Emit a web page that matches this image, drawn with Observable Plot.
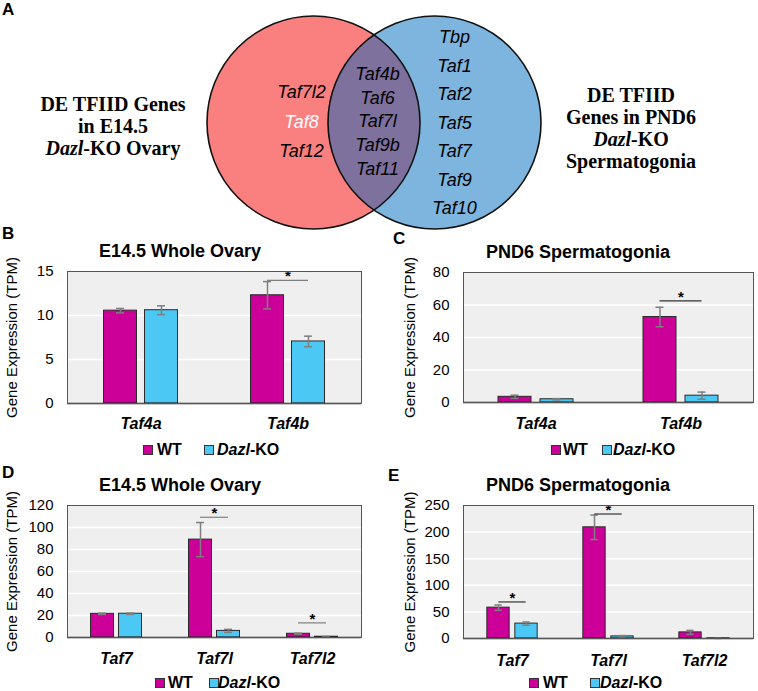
<!DOCTYPE html>
<html><head><meta charset="utf-8">
<script src="https://cdn.jsdelivr.net/npm/d3@7"></script>
<script src="https://cdn.jsdelivr.net/npm/@observablehq/plot@0.6"></script>
<style>
body{margin:0;background:#fff;}
#root{position:relative;width:758px;height:691px;overflow:hidden;font-family:"Liberation Sans",Arial,sans-serif;color:#000;}
#root svg{position:absolute;overflow:visible;}
.letter{position:absolute;font-weight:bold;font-size:17px;line-height:18px;}
.title{position:absolute;font-weight:bold;font-size:18px;line-height:20px;text-align:center;width:300px;white-space:nowrap;}
.vlab{position:absolute;font-family:"Liberation Serif","Times New Roman",serif;font-weight:bold;font-size:20px;line-height:22px;text-align:center;width:220px;}
.sw{position:absolute;width:8px;height:8px;border:1px solid #333;}
.lt{position:absolute;font-weight:bold;font-size:16px;line-height:18px;white-space:nowrap;}
</style></head><body><div id="root"></div>
<script>
// ---------- data ----------
const vennLeftOnly = ["Taf7l2", "Taf8", "Taf12"];
const vennShared = ["Taf4b", "Taf6", "Taf7l", "Taf9b", "Taf11"];
const vennRightOnly = ["Tbp", "Taf1", "Taf2", "Taf5", "Taf7", "Taf9", "Taf10"];
const vennLeftLabel = ["DE TFIID Genes", "in E14.5", "<i>Dazl</i>-KO Ovary"];
const vennRightLabel = ["DE TFIID", "Genes in PND6", "<i>Dazl</i>-KO", "Spermatogonia"];

const genotypes = ["WT", "Dazl-KO"];
const genesBC = ["Taf4a", "Taf4b"];
const genesDE = ["Taf7", "Taf7l", "Taf7l2"];

// B: E14.5 whole ovary
const bWT = [10.55, 12.3], bWTerr = [0.25, 1.55];
const bKO = [10.6, 7.05], bKOerr = [0.5, 0.6];
const bSig = [{gene: "Taf4b", y: 14.0}];
// C: PND6 spermatogonia
const cWT = [3.5, 52.6], cWTerr = [1.0, 6.0];
const cKO = [2.0, 4.2], cKOerr = [0.4, 2.2];
const cSig = [{gene: "Taf4b", y: 62.6}];
// D: E14.5 whole ovary
const dWT = [21.5, 89, 3.4], dWTerr = [0.6, 15.5, 0.5];
const dKO = [21.6, 6.0, 0.7], dKOerr = [0.6, 1.4, 0.2];
const dSig = [{gene: "Taf7l", y: 109.3}, {gene: "Taf7l2", y: 13.3}];
// E: PND6 spermatogonia
const eWT = [58, 209, 11.5], eWTerr = [5, 23, 3.7];
const eKO = [28, 4, 0.4], eKOerr = [3, 1.5, 0.2];
const eSig = [{gene: "Taf7", y: 68.7}, {gene: "Taf7l", y: 234}];

const WT_COLOR = "#CC0099", KO_COLOR = "#4CC8F4";
const root = document.getElementById("root");

function place(el, left, top) { el.style.left = left + "px"; el.style.top = top + "px"; root.appendChild(el); return el; }
function div(cls, html) { const d = document.createElement("div"); d.className = cls; d.innerHTML = html; return d; }

// ---------- Venn (panel A) ----------
const V = {cx1: 313, cx2: 434, cy: 122, r: 106.5};
const lens = d3.range(V.cx2 - V.r, V.cx1 + V.r + 0.001, 0.25).map(x => {
  const h1 = Math.sqrt(Math.max(0, V.r * V.r - (x - V.cx1) ** 2));
  const h2 = Math.sqrt(Math.max(0, V.r * V.r - (x - V.cx2) ** 2));
  const h = Math.min(h1, h2);
  return {x, y1: V.cy - h, y2: V.cy + h};
});
const vennText = {fontSize: 18, fontStyle: "italic", fontFamily: "Liberation Sans, Arial, sans-serif", text: d => d};
const venn = Plot.plot({
  width: 758, height: 240, margin: 0,
  x: {type: "identity", axis: null}, y: {type: "identity", axis: null},
  style: {background: "transparent", overflow: "visible"},
  marks: [
    Plot.dot([V.cx1], {x: d => d, y: () => V.cy, r: V.r, fill: "#FA8080", stroke: "none"}),
    Plot.dot([V.cx2], {x: d => d, y: () => V.cy, r: V.r, fill: "#7DB5DE", stroke: "none"}),
    Plot.areaY(lens, {x: "x", y1: "y1", y2: "y2", fill: "#7F719E"}),
    Plot.dot([V.cx1, V.cx2], {x: d => d, y: () => V.cy, r: V.r, fill: "none", stroke: "#111", strokeWidth: 1.6}),
    Plot.text(vennLeftOnly, {...vennText, x: () => 301, y: (d, i) => 92 + i * 29.3, fill: d => d === "Taf8" ? "white" : "black"}),
    Plot.text(vennShared, {...vennText, x: () => 377, y: (d, i) => 74 + i * 23.6}),
    Plot.text(vennRightOnly, {...vennText, x: () => 454, y: (d, i) => 37 + i * 28.5})
  ]
});
place(venn, 0, 0);
place(div("vlab", vennLeftLabel.join("<br>")), 113 - 110, 126 - 33);
place(div("vlab", vennRightLabel.join("<br>")), 631 - 110, 128 - 44);

// ---------- bar panels ----------
function barPanel(p) {
  const {genes, wt, wtErr, ko, koErr, sig, yMax, yStep, width, height, marginLeft, marginRight, marginTop, marginBottom, barW, gap, labelOffset, xPad, sigColor} = p;
  const wtRows = genes.map((g, i) => ({gene: g, v: wt[i], e: wtErr[i]}));
  const koRows = genes.map((g, i) => ({gene: g, v: ko[i], e: koErr[i]}));
  const step = (width - marginLeft - marginRight) / genes.length;
  const half = step / 2;
  const off = gap / 2 + barW / 2;
  const cap = 4;
  const ticks = d3.range(0, yMax + 1e-9, yStep);
  const errMarks = (rows, dx) => [
    Plot.ruleX(rows, {x: "gene", y1: d => d.v - d.e, y2: d => d.v + d.e, dx, stroke: "#7F7F7F", strokeWidth: 1.5}),
    Plot.tickY(rows, {x: "gene", y: d => d.v + d.e, insetLeft: half + dx - cap, insetRight: half - dx - cap, stroke: "#7F7F7F", strokeWidth: 1.5}),
    Plot.tickY(rows, {x: "gene", y: d => d.v - d.e, insetLeft: half + dx - cap, insetRight: half - dx - cap, stroke: "#7F7F7F", strokeWidth: 1.5})
  ];
  return Plot.plot({
    width, height, marginLeft, marginRight, marginTop, marginBottom,
    style: {background: "transparent", overflow: "visible", fontFamily: "Liberation Sans, Arial, sans-serif", color: "#000"},
    x: {type: "band", domain: genes, padding: 0},
    y: {domain: [0, yMax]},
    marks: [
      Plot.frame({fill: "#EFEFEF", stroke: "none"}),
      Plot.gridY(ticks.filter(t => t > 0 && t < yMax), {stroke: "#fff", strokeOpacity: 1, strokeWidth: 1.5}),
      Plot.barY(wtRows, {x: "gene", y: "v", fill: WT_COLOR, stroke: "#2a2a2a", strokeWidth: 1, insetLeft: half - gap / 2 - barW, insetRight: half + gap / 2}),
      Plot.barY(koRows, {x: "gene", y: "v", fill: KO_COLOR, stroke: "#2a2a2a", strokeWidth: 1, insetLeft: half + gap / 2, insetRight: half - gap / 2 - barW}),
      ...errMarks(wtRows, -off),
      ...errMarks(koRows, off),
      Plot.tickY(sig, {x: "gene", y: "y", insetLeft: half - off, insetRight: half - off, stroke: sigColor, strokeWidth: 1.2}),
      Plot.text(sig, {x: "gene", y: "y", text: () => "*", dy: -4, fontSize: 15, fontWeight: "bold"}),
      Plot.ruleY([0], {stroke: "#222", strokeWidth: 1.5}),
      Plot.frame({stroke: "#555", strokeWidth: 1}),
      Plot.axisY({ticks, tickSize: 0, tickPadding: 14, fontSize: 15, label: "Gene Expression (TPM)", labelAnchor: "center", labelOffset, labelArrow: "none"}),
      Plot.axisX({tickSize: 0, tickPadding: xPad, fontSize: 16, fontWeight: "bold", fontStyle: "italic", label: null})
    ]
  });
}

const panels = [
  {left: 0, top: 262, genes: genesBC, wt: bWT, wtErr: bWTerr, ko: bKO, koErr: bKOerr, sig: bSig, yMax: 15, yStep: 5,
   width: 375, height: 175, marginLeft: 67, marginRight: 14, marginTop: 9, marginBottom: 34, barW: 33, gap: 8, labelOffset: 61, xPad: 14, sigColor: "#7F7F7F"},
  {left: 380, top: 262, genes: genesBC, wt: cWT, wtErr: cWTerr, ko: cKO, koErr: cKOerr, sig: cSig, yMax: 80, yStep: 20,
   width: 378, height: 175, marginLeft: 83, marginRight: 5, marginTop: 10, marginBottom: 35, barW: 33, gap: 9, labelOffset: 59, xPad: 15, sigColor: "#333"},
  {left: 0, top: 496, genes: genesDE, wt: dWT, wtErr: dWTerr, ko: dKO, koErr: dKOerr, sig: dSig, yMax: 120, yStep: 20,
   width: 375, height: 175, marginLeft: 67, marginRight: 14, marginTop: 9, marginBottom: 34, barW: 23, gap: 5, labelOffset: 61, xPad: 15, sigColor: "#7F7F7F"},
  {left: 380, top: 496, genes: genesDE, wt: eWT, wtErr: eWTerr, ko: eKO, koErr: eKOerr, sig: eSig, yMax: 250, yStep: 50,
   width: 378, height: 175, marginLeft: 83, marginRight: 5, marginTop: 9, marginBottom: 33, barW: 23, gap: 5, labelOffset: 59, xPad: 16, sigColor: "#333"}
];
panels.forEach(p => place(barPanel(p), p.left, p.top));

// titles
const titles = [
  {text: "E14.5 Whole Ovary", cx: 180, cy: 251},
  {text: "PND6 Spermatogonia", cx: 578, cy: 252},
  {text: "E14.5 Whole Ovary", cx: 180, cy: 485},
  {text: "PND6 Spermatogonia", cx: 578, cy: 485}
];
titles.forEach(t => place(div("title", t.text), t.cx - 150, t.cy - 10));

// panel letters
const letters = [
  {t: "A", x: 2, y: 10}, {t: "B", x: 2, y: 234}, {t: "C", x: 393, y: 239},
  {t: "D", x: 2, y: 473}, {t: "E", x: 388, y: 476}
];
letters.forEach(l => place(div("letter", l.t), l.x, l.y - 9));

// legends
const legendLabels = ["WT", "<i>Dazl</i>-KO"];
const legendColors = [WT_COLOR, KO_COLOR];
const legends = [
  {y: 450, sq: [143, 204], tx: [157, 217]},
  {y: 450, sq: [551, 602], tx: [563, 613]},
  {y: 683, sq: [155, 209], tx: [168, 218]},
  {y: 683, sq: [529, 590], tx: [543, 600]}
];
legends.forEach(L => {
  genotypes.forEach((g, i) => {
    const s = div("sw", ""); s.style.background = legendColors[i];
    place(s, L.sq[i], L.y - 5);
    place(div("lt", legendLabels[i]), L.tx[i], L.y - 9);
  });
});
</script></body></html>
